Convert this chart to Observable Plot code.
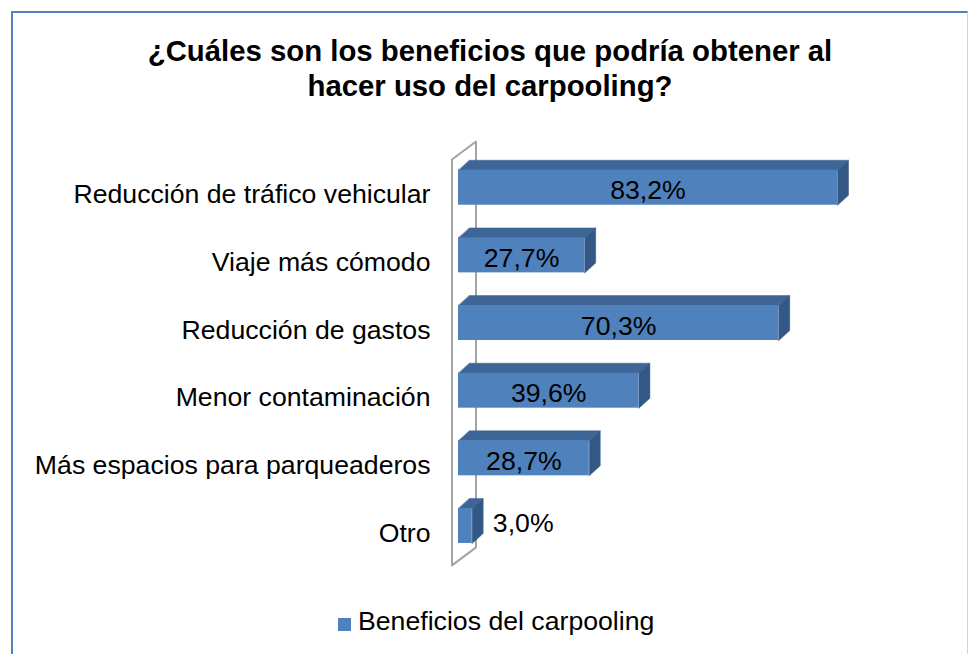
<!DOCTYPE html>
<html>
<head>
<meta charset="utf-8">
<script src="https://cdn.jsdelivr.net/npm/d3@7"></script>
<script src="https://cdn.jsdelivr.net/npm/@observablehq/plot@0.6"></script>
<style>
  html, body { margin: 0; padding: 0; background: #fff; overflow: hidden; }
  body { position: relative; width: 968px; height: 654px; font-family: "Liberation Sans", Arial, sans-serif; color: #000; }
  #frame { position: absolute; left: 11px; top: 11px; width: 957px; height: 700px; box-sizing: border-box;
           border-top: 2px solid #4f81bd; border-left: 2px solid #4f81bd; border-right: 1px solid #d4d4d4; pointer-events: none; }
  #title { box-sizing: border-box; width: 968px; height: 120px; padding-top: 32.8px; padding-left: 12px;
           text-align: center; font-weight: bold; font-size: 29.33px; line-height: 35px; }
  #chart { width: 968px; height: 470px; }
  #chart svg { display: block; }
  #legend { margin-top: 16px; margin-left: 338px; font-size: 26.67px; line-height: 30px; display: flex; align-items: center; white-space: nowrap; }
  #legend .sw { display: inline-block; width: 13px; height: 13px; background: #4f81bd; margin-right: 7px; position: relative; top: 3px; }
</style>
</head>
<body>
<div id="frame"></div>
<div id="title"></div>
<div id="chart"></div>
<div id="legend"><span class="sw"></span><span id="legendText"></span></div>
<script>
// ---- data ----
const titleLines = ["¿Cuáles son los beneficios que podría obtener al", "hacer uso del carpooling?"];
const seriesName = "Beneficios del carpooling";
const categories = [
  "Reducción de tráfico vehicular",
  "Viaje más cómodo",
  "Reducción de gastos",
  "Menor contaminación",
  "Más espacios para parqueaderos",
  "Otro"
];
const values = [83.2, 27.7, 70.3, 39.6, 28.7, 3.0];
const valueLabels = ["83,2%", "27,7%", "70,3%", "39,6%", "28,7%", "3,0%"];

// ---- layout ----
const W = 968, H = 470;
const mL = 458, mR = 100, mT = 33.4, mB = 30.7;
const xMax = 90;
const pxX = (W - mL - mR) / xMax;                 // px per %
const pxY = (H - mT - mB) / categories.length;    // px per category step
const ux = px => px / pxX, uy = px => px / pxY;   // px -> data units
const barH = uy(35);
const bd = {dx: ux(11), dy: uy(10)};              // bar depth
const wallFront = {dx: ux(-6.5), dy: uy(-5.6)};   // (dy positive = up)
const wallBack = {dx: ux(17.5), dy: uy(12.4)};

const colFront = "#4f81bd", colTop = "#3d6595", colSide = "#335885";

document.getElementById("title").innerHTML = titleLines.join("<br>");
document.getElementById("legendText").textContent = seriesName;

const rows = categories.map((c, i) => ({cat: c, i, v: values[i], label: valueLabels[i]}));

// polygons for the 3D faces
const faces = [];
rows.forEach(r => {
  const yT = r.i - barH / 2, yB = r.i + barH / 2;
  [[0, yT], [r.v, yT], [r.v + bd.dx, yT - bd.dy], [bd.dx, yT - bd.dy]]
    .forEach(([x, y]) => faces.push({key: "top" + r.i, face: "top", x, y}));
  [[r.v, yT], [r.v + bd.dx, yT - bd.dy], [r.v + bd.dx, yB - bd.dy], [r.v, yB]]
    .forEach(([x, y]) => faces.push({key: "side" + r.i, face: "side", x, y}));
});
const y0 = -0.5, y1 = categories.length - 0.5;
const wall = [
  {x: wallFront.dx, y: y0 - wallFront.dy},
  {x: wallBack.dx, y: y0 - wallBack.dy},
  {x: wallBack.dx, y: y1 - wallBack.dy},
  {x: wallFront.dx, y: y1 - wallFront.dy}
];

const chart = Plot.plot({
  width: W, height: H,
  marginLeft: mL, marginRight: mR, marginTop: mT, marginBottom: mB,
  style: {fontFamily: "'Liberation Sans', Arial, sans-serif", fontSize: "26.67px", color: "#000", background: "transparent", overflow: "visible"},
  x: {domain: [0, xMax], axis: null},
  y: {type: "linear", domain: [y0, y1], reverse: true, axis: null},
  marks: [
    Plot.line(wall, {x: "x", y: "y", curve: "linear-closed", stroke: "#a3a3a3", strokeWidth: 2, fill: "none"}),
    Plot.line(faces.filter(d => d.face === "top"), {x: "x", y: "y", z: "key", curve: "linear-closed", fill: colTop, stroke: colTop, strokeWidth: 0.5}),
    Plot.line(faces.filter(d => d.face === "side"), {x: "x", y: "y", z: "key", curve: "linear-closed", fill: colSide, stroke: colSide, strokeWidth: 0.5}),
    Plot.rect(rows, {x1: d => 0, x2: "v", y1: d => d.i - barH / 2, y2: d => d.i + barH / 2, fill: colFront}),
    Plot.text(rows.filter(d => d.v >= 10), {x: d => d.v / 2, y: "i", text: "label", fontSize: 26.67, fill: "#000", dy: 3}),
    Plot.text(rows.filter(d => d.v < 10), {x: "v", y: "i", text: "label", fontSize: 26.67, fill: "#000", textAnchor: "start", dx: 20.7, dy: -2.5}),
    Plot.axisY({ticks: categories.map((c, i) => i), tickFormat: i => categories[i], tickSize: 0, tickPadding: 28, fontSize: 26.67, dy: 7, label: null})
  ]
});
document.getElementById("chart").appendChild(chart);
</script>
</body>
</html>
